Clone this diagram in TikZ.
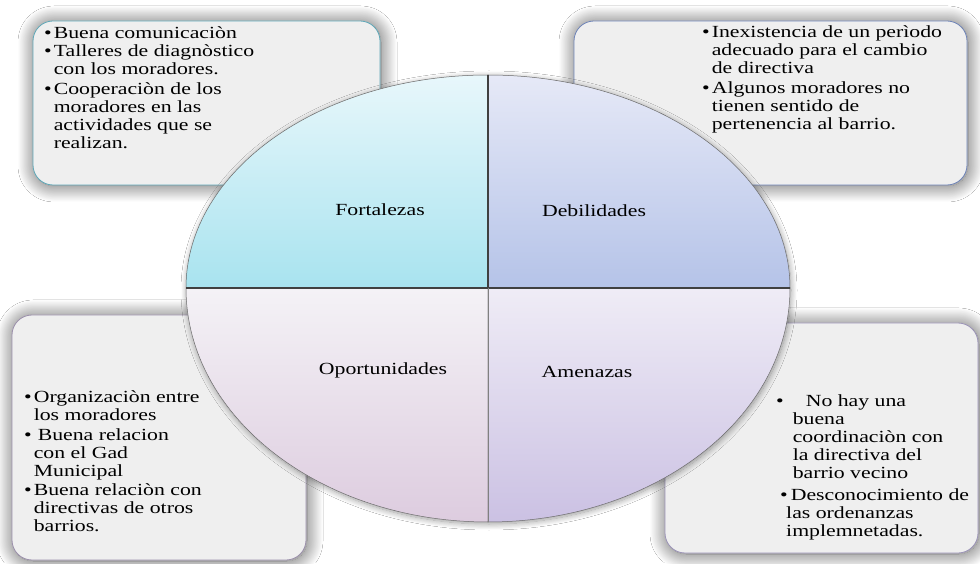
\documentclass[tikz,border=0pt]{standalone}
\usepackage{fontspec}
\setmainfont{Liberation Serif}[FakeStretch=1.28]
\usetikzlibrary{shadows.blur}
\tikzset{>=latex}

\definecolor{cardgray}{HTML}{EFEFEF}
\definecolor{tealbd}{HTML}{5FA8B8}
\definecolor{bluebd}{HTML}{6F84B8}
\definecolor{lilacbd}{HTML}{9C90AC}
\definecolor{violetbd}{HTML}{9C94B8}
\definecolor{fortop}{HTML}{E8F7FB}
\definecolor{forbot}{HTML}{A8E3EF}
\definecolor{debtop}{HTML}{E6E9F7}
\definecolor{debbot}{HTML}{B5C3E8}
\definecolor{opotop}{HTML}{F4F2F6}
\definecolor{opobot}{HTML}{DDCCDF}
\definecolor{amntop}{HTML}{EFECF6}
\definecolor{amnbot}{HTML}{CBC1E3}

\begin{document}
\begin{tikzpicture}[x=1pt, y=1pt, line join=round,
    glow/.style={blur shadow={shadow xshift=1pt, shadow yshift=-1pt, shadow blur radius=16pt,
        shadow blur steps=24, shadow opacity=65}},
    halo/.style={blur shadow={shadow xshift=1pt, shadow yshift=-2pt, shadow blur radius=6pt,
        shadow blur steps=12, shadow opacity=40}},
    card/.style={draw=#1, line width=0.8pt, rounded corners=20pt, fill=cardgray, glow},
    quad/.style={draw=gray!80!black, line width=0.5pt},
    divider/.style={draw=black!75, line width=1.3pt},
    lbl/.style={font=\fontsize{17}{18}\selectfont},
    list/.style={anchor=north west, inner sep=0pt, align=left, font=\fontsize{17}{18}\selectfont}]
    \useasboundingbox[fill=white] (0,0) rectangle (980,563);

    % cards behind the circle
    \node[card=tealbd, minimum width=347pt, minimum height=164pt] (fbox) at (206.5,460) {};
    \node[card=bluebd, minimum width=393pt, minimum height=164pt] (dbox) at (770.5,460) {};
    \node[card=lilacbd, minimum width=294pt, minimum height=245pt] (obox) at (159,125.5) {};
    \node[card=violetbd, minimum width=313pt, minimum height=230pt] (abox) at (821.5,125) {};

    % circle split in four
    \coordinate (ctr) at (488,275);
    \path[fill=white, halo] (186,275) arc[start angle=180, end angle=0, x radius=302, y radius=213]
        arc[start angle=0, end angle=-180, x radius=302, y radius=234] -- cycle;
    \foreach \s/\e/\ry/\tc/\bc in {180/90/213/fortop/forbot, 90/0/213/debtop/debbot,
                                   180/270/234/opotop/opobot, 270/360/234/amntop/amnbot}{
        \draw[quad, top color=\tc, bottom color=\bc] (ctr) -- ++(\s:302 and \ry)
            arc[start angle=\s, end angle=\e, x radius=302, y radius=\ry] -- cycle;
    }
    \draw[divider] (ctr) -- ++(0,213);
    \draw[divider] (186,275) -- (790,275);
    \draw[gray, line width=1pt] (ctr) -- ++(0,-234);

    \node[lbl] (fort) at (380,353) {Fortalezas};
    \node[lbl] (debi) at (594,352) {Debilidades};
    \node[lbl] (opor) at (383,193) {Oportunidades};
    \node[lbl] (amen) at (587,191) {Amenazas};

    % texts of the cards
    \node[list] (ftxt) at (44,537) {\begin{tabular}{@{}l@{\hspace{2pt}}l@{}}
        \textbullet & Buena comunicaciòn\\
        \textbullet & Talleres de diagnòstico\\
                    & con los moradores.\\[1.5pt]
        \textbullet & Cooperaciòn de los\\
                    & moradores en las\\
                    & actividades que se\\
                    & realizan.
    \end{tabular}};
    \node[list] (dtxt) at (702,538) {\begin{tabular}{@{}l@{\hspace{2pt}}l@{}}
        \textbullet & Inexistencia de un perìodo\\
                    & adecuado para el cambio\\
                    & de directiva\\[1.5pt]
        \textbullet & Algunos moradores no\\
                    & tienen sentido de\\
                    & pertenencia al barrio.
    \end{tabular}};
    \node[list] (otxt) at (24,173) {\begin{tabular}{@{}l@{\hspace{2pt}}l@{}}
        \textbullet & Organizaciòn entre\\
                    & los moradores\\[1.5pt]
        \textbullet & \hspace{4pt}Buena relacion\\
                    & con el Gad\\
                    & Municipal\\[1.5pt]
        \textbullet & Buena relaciòn con\\
                    & directivas de otros\\
                    & barrios.
    \end{tabular}};
    \node[list] (atxt) at (776,169) {\begin{tabular}{@{}l@{\hspace{9pt}}l@{}}
        \textbullet & \hspace{13pt}No hay una\\
                    & buena\\
                    & coordinaciòn con\\
                    & la directiva del\\
                    & barrio vecino\\[4pt]
        \multicolumn{2}{@{}l@{}}{\hspace{4pt}\textbullet\hspace{3pt}Desconocimiento de}\\
        \multicolumn{2}{@{}l@{}}{\hspace{10pt}las ordenanzas}\\
        \multicolumn{2}{@{}l@{}}{\hspace{10pt}implemnetadas.}
    \end{tabular}};
\end{tikzpicture}
\end{document}
